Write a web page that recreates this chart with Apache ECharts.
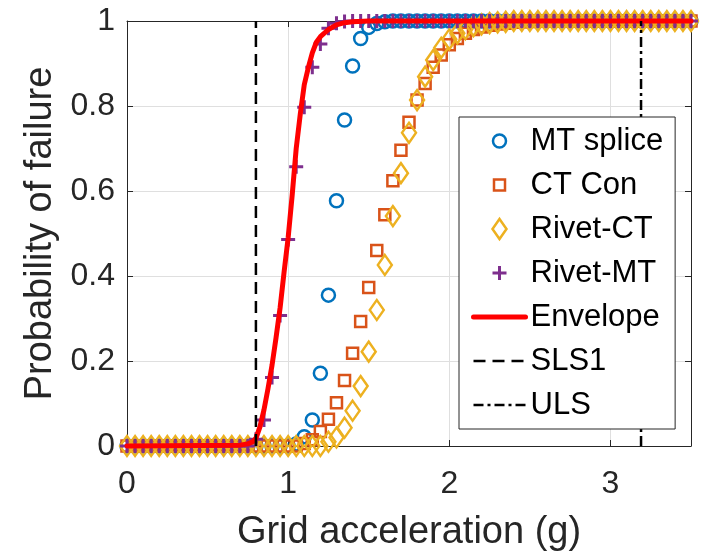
<!DOCTYPE html>
<html><head><meta charset="utf-8">
<script src="https://cdn.jsdelivr.net/npm/echarts@6/dist/echarts.min.js"></script>
<style>html,body{margin:0;padding:0;background:#fff}#c{width:701px;height:553px}</style>
</head><body><div id="c"></div>
<script>
// x positions of the marker series (g)
const xGrid = [0, 0.05, 0.1, 0.15, 0.2, 0.25, 0.3, 0.35, 0.4, 0.45,
  0.5, 0.55, 0.6, 0.65, 0.7, 0.75, 0.8, 0.85, 0.9, 0.95,
  1.0, 1.05, 1.1, 1.15, 1.2, 1.25, 1.3, 1.35, 1.4, 1.45,
  1.5, 1.55, 1.6, 1.65, 1.7, 1.75, 1.8, 1.85, 1.9, 1.95,
  2.0, 2.05, 2.1, 2.15, 2.2, 2.25, 2.3, 2.35, 2.4, 2.45,
  2.5, 2.55, 2.6, 2.65, 2.7, 2.75, 2.8, 2.85, 2.9, 2.95,
  3.0, 3.05, 3.1, 3.15, 3.2, 3.25, 3.3, 3.35, 3.4, 3.45, 3.5];

const mtSplice = [0,0,0,0,0,0,0,0,0,0, 0,0,0,0,0,0,0,0,0,0,
  0, 0.005, 0.022, 0.061, 0.171, 0.355, 0.577, 0.767, 0.894, 0.959,
  0.985, 0.994, 0.998, 1,1,1,1,1,1,1, 1,1,1,1,1,1,1,1,1,1,
  1,1,1,1,1,1,1,1,1,1, 1,1,1,1,1,1,1,1,1,1, 1];

const ctCon = [0,0,0,0,0,0,0,0,0,0, 0,0,0,0,0,0,0,0,0,0,
  0, 0, 0.006, 0.015, 0.034, 0.063, 0.102, 0.154, 0.218, 0.293,
  0.373, 0.46, 0.544, 0.624, 0.696, 0.762, 0.814, 0.853, 0.891, 0.92,
  0.944, 0.959, 0.971, 0.98, 0.986, 0.99, 0.993, 0.995, 0.997, 0.998,
  0.999, 1,1,1,1,1,1,1,1,1, 1,1,1,1,1,1,1,1,1,1, 1];

const rivetCT = [0,0,0,0,0,0,0,0,0,0, 0,0,0,0,0,0,0,0,0,0,
  0, 0, 0, 0, 0, 0.01, 0.02, 0.043, 0.083, 0.141,
  0.222, 0.32, 0.426, 0.541, 0.642, 0.737, 0.814, 0.869, 0.908, 0.937,
  0.957, 0.971, 0.981, 0.988, 0.992, 0.995, 0.997, 0.998, 1, 1,
  1,1,1,1,1,1,1,1,1,1, 1,1,1,1,1,1,1,1,1,1, 1];

const rivetMT = [0,0,0,0,0,0,0,0,0,0, 0,0,0,0,0,0,
  0.016, 0.061, 0.161, 0.307, 0.486, 0.657, 0.797, 0.891, 0.946, 0.983,
  0.995, 0.999, 1,1, 1,1,1,1,1,1,1,1,1,1, 1,1,1,1,1,1,1,1,1,1,
  1,1,1,1,1,1,1,1,1,1, 1,1,1,1,1,1,1,1,1,1, 1];

// envelope curve
const envX = [0, 0.7, 0.75, 0.78, 0.8, 0.825, 0.85, 0.875, 0.9, 0.925, 0.95, 0.975,
  1.0, 1.025, 1.05, 1.075, 1.1, 1.125, 1.15, 1.175, 1.2, 1.25, 1.3, 1.35, 1.4, 1.5, 3.5];
const envY = [0, 0.002, 0.005, 0.01, 0.018, 0.045, 0.085, 0.135, 0.19, 0.255, 0.325, 0.41,
  0.49, 0.59, 0.7, 0.78, 0.85, 0.89, 0.925, 0.95, 0.963, 0.98, 0.991, 0.996, 0.998, 1, 1];

// limit states (g)
const sls1 = 0.8;
const uls = 3.19;

const seriesNames = ['MT splice', 'CT Con', 'Rivet-CT', 'Rivet-MT', 'Envelope', 'SLS1', 'ULS'];

const FONT = "'Liberation Sans', Arial, Helvetica, sans-serif";
const AX = '#262626';
const GRIDC = '#dfdfdf';
const pairs = ys => xGrid.map((x, i) => [x, ys[i]]);
const plusPath = 'path://M0,5.5H14V8.5H0Z M5.5,0H8.5V14H5.5Z';
// legend icons (padded to a 20x20 box)
const legCircle = 'path://M0,0M20,20M10,3.5A6.5,6.5 0 1 1 9.99,3.5Z';
const legSquare = 'path://M0,0M20,20M4.5,4.5H15.5V15.5H4.5Z';
const legDiamond = 'path://M0,0M20,20M10,0L17,10L10,20L3,10Z';
const legPlus = 'path://M0,0M20,20M3,8.5H17V11.5H3Z M8.5,3H11.5V17H8.5Z';

const chart = echarts.init(document.getElementById('c'), null, {renderer: 'canvas'});

const boxAxis = (pos, min, max, interval) => ({
  type: 'value', min, max, interval, position: pos,
  axisLine: {show: true, onZero: false, lineStyle: {color: AX, width: 1}},
  axisTick: {show: true, inside: true, length: 6, lineStyle: {color: AX, width: 1}},
  axisLabel: {show: false},
  splitLine: {show: false}
});

const option = {
  animation: false,
  backgroundColor: '#fff',
  grid: {left: 127, right: 10, top: 21, bottom: 107, containLabel: false, outerBoundsMode: 'none'},
  xAxis: [{
    type: 'value', min: 0, max: 3.5, interval: 1, position: 'bottom',
    name: 'Grid acceleration (g)', nameLocation: 'middle', nameGap: 68,
    nameTextStyle: {fontSize: 38, color: AX, fontFamily: FONT},
    axisLine: {show: true, onZero: false, lineStyle: {color: AX, width: 1}},
    axisTick: {show: true, inside: true, length: 6, lineStyle: {color: AX, width: 1}},
    axisLabel: {fontSize: 32, color: AX, fontFamily: FONT, margin: 22, showMaxLabel: false},
    splitLine: {show: true, lineStyle: {color: GRIDC, width: 1}}
  }, boxAxis('top', 0, 3.5, 1)],
  yAxis: [{
    type: 'value', min: 0, max: 1, interval: 0.2, position: 'left',
    name: 'Probability of failure', nameLocation: 'middle', nameGap: 66, nameRotate: 90,
    nameTextStyle: {fontSize: 38, color: AX, fontFamily: FONT},
    axisLine: {show: true, onZero: false, lineStyle: {color: AX, width: 1}},
    axisTick: {show: true, inside: true, length: 6, lineStyle: {color: AX, width: 1}},
    axisLabel: {fontSize: 32, color: AX, fontFamily: FONT, margin: 12},
    splitLine: {show: true, lineStyle: {color: GRIDC, width: 1}}
  }, boxAxis('right', 0, 1, 0.2)],
  legend: {
    orient: 'vertical', left: 459, top: 117,
    padding: [7, 12, 7, 12], itemGap: 10, itemWidth: 52, itemHeight: 20,
    symbolKeepAspect: true,
    backgroundColor: '#fff', borderColor: AX, borderWidth: 1, borderRadius: 0,
    textStyle: {fontSize: 31, color: '#000', fontFamily: FONT, lineHeight: 34},
    data: [
      {name: seriesNames[0], icon: legCircle, itemStyle: {borderWidth: 2.5}},
      {name: seriesNames[1], icon: legSquare, itemStyle: {borderWidth: 2.5}},
      {name: seriesNames[2], icon: legDiamond, itemStyle: {borderWidth: 2.5}},
      {name: seriesNames[3], icon: legPlus},
      {name: seriesNames[4], itemStyle: {opacity: 0}, lineStyle: {width: 5}},
      {name: seriesNames[5], itemStyle: {opacity: 0}, lineStyle: {width: 2.5}},
      {name: seriesNames[6], itemStyle: {opacity: 0}, lineStyle: {width: 2.5}}
    ]
  },
  series: [
    {name: seriesNames[0], type: 'scatter', data: pairs(mtSplice), clip: false,
      symbol: 'circle', symbolSize: 13,
      itemStyle: {color: 'rgba(0,0,0,0)', borderColor: '#0072BD', borderWidth: 2.5, opacity: 1}},
    {name: seriesNames[1], type: 'scatter', data: pairs(ctCon), clip: false,
      symbol: 'rect', symbolSize: 11,
      itemStyle: {color: 'rgba(0,0,0,0)', borderColor: '#D95319', borderWidth: 2.5, opacity: 1}},
    {name: seriesNames[2], type: 'scatter', data: pairs(rivetCT), clip: false,
      symbol: 'diamond', symbolSize: [14, 20],
      itemStyle: {color: 'rgba(0,0,0,0)', borderColor: '#EDB120', borderWidth: 2.5, opacity: 1}},
    {name: seriesNames[3], type: 'scatter', data: pairs(rivetMT), clip: false,
      symbol: plusPath, symbolSize: 14,
      itemStyle: {color: '#7E2F8E', opacity: 1}},
    {name: seriesNames[4], type: 'line', data: envX.map((x, i) => [x, envY[i]]), clip: false,
      symbol: 'none', smooth: false,
      lineStyle: {color: '#FF0000', width: 5, join: 'round', cap: 'round'},
      itemStyle: {color: '#FF0000'}},
    {name: seriesNames[5], type: 'line', data: [[sls1, 0], [sls1, 1]], clip: false,
      symbol: 'none',
      lineStyle: {color: '#000', width: 2.5, type: [12, 7]}, itemStyle: {color: '#000'}},
    {name: seriesNames[6], type: 'line', data: [[uls, 0], [uls, 1]], clip: false,
      symbol: 'none',
      lineStyle: {color: '#000', width: 2.5, type: [10, 4, 3, 4]}, itemStyle: {color: '#000'}}
  ]
};
chart.setOption(option);
</script></body></html>
